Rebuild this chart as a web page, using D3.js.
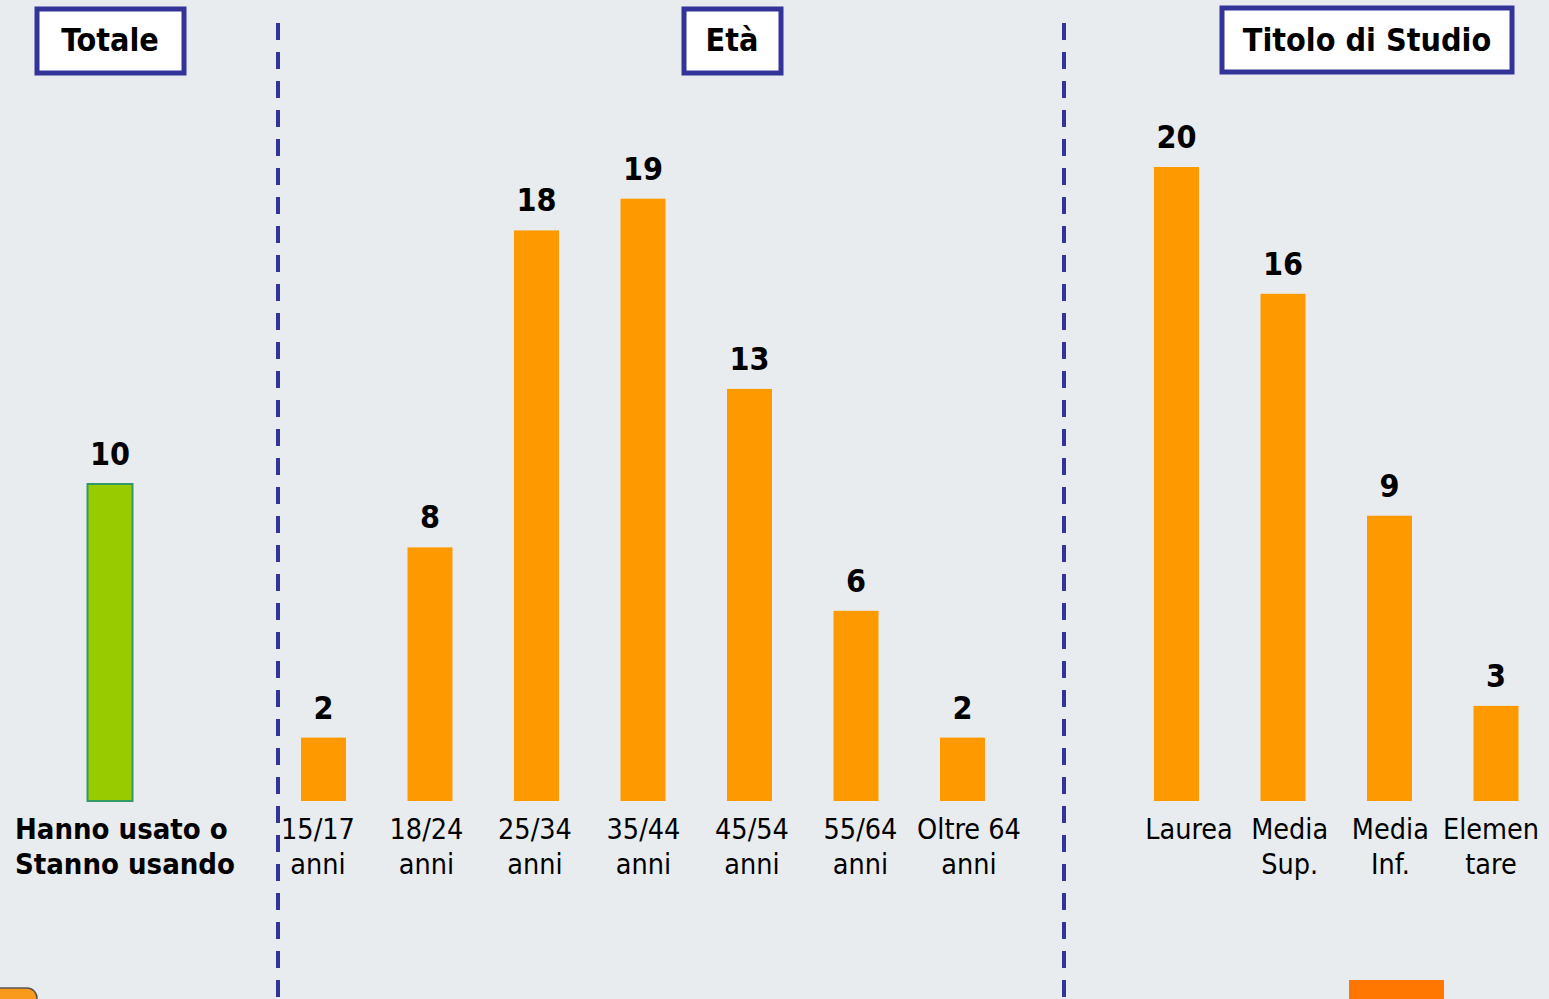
<!DOCTYPE html>
<html>
<head>
<meta charset="utf-8">
<script src="https://cdn.jsdelivr.net/npm/d3@7"></script>
<style>
  body { margin:0; background:#e9ecee; }
  svg { display:block; background:#e9ecee; }
  .val { font-family: Tahoma, "DejaVu Sans Condensed", "DejaVu Sans", sans-serif; font-weight:bold; font-size:32px; fill:#000; }
  .cat { font-family: Tahoma, "DejaVu Sans Condensed", "DejaVu Sans", sans-serif; font-size:28.5px; fill:#000; }
  .cat.b { font-weight:bold; font-size:29px; }
  .ttl { font-family: Tahoma, "DejaVu Sans Condensed", "DejaVu Sans", sans-serif; font-weight:bold; font-size:32px; fill:#000; }
</style>
</head>
<body>
<script>
// data
var totaleCats = ["Hanno usato o|Stanno usando"];
var totaleVals = [10];
var etaCats = ["15/17|anni", "18/24|anni", "25/34|anni", "35/44|anni", "45/54|anni", "55/64|anni", "Oltre 64|anni"];
var etaVals = [2, 8, 18, 19, 13, 6, 2];
var studioCats = ["Laurea", "Media|Sup.", "Media|Inf.", "Elemen|tare"];
var studioVals = [20, 16, 9, 3];
var panelTitles = ["Totale", "Età", "Titolo di Studio"];

var width = 1549, height = 999;
var svg = d3.select("body").append("svg").attr("width", width).attr("height", height);

var y = d3.scaleLinear().domain([0, 20]).range([801, 167]);
var barW = 45;

var panels = [
  {cats: totaleCats, vals: totaleVals, bar: [110, 110], lab: [15, 15], anchor: "start", bold: true, color: "#99cc00", stroke: "#339966"},
  {cats: etaCats, vals: etaVals, bar: [323.5, 962.5], lab: [318, 969], anchor: "middle", color: "#ff9900"},
  {cats: studioCats, vals: studioVals, bar: [1176.5, 1496], lab: [1189, 1491], anchor: "middle", color: "#ff9900"}
];

// dashed separators
[278, 1064].forEach(function(x) {
  svg.append("line")
    .attr("x1", x).attr("x2", x).attr("y1", 23).attr("y2", height)
    .attr("stroke", "#333399").attr("stroke-width", 4)
    .attr("stroke-dasharray", "17,12");
});

panels.forEach(function(p) {
  var xb = d3.scalePoint().domain(p.cats).range(p.bar);
  var xl = d3.scalePoint().domain(p.cats).range(p.lab);
  var g = svg.append("g");

  g.selectAll("rect.bar").data(p.cats).enter().append("rect")
    .attr("class", "bar")
    .attr("x", function(d) { return xb(d) - barW / 2; })
    .attr("width", barW)
    .attr("y", function(d, i) { return y(p.vals[i]); })
    .attr("height", function(d, i) { return y(0) - y(p.vals[i]); })
    .attr("fill", p.color)
    .attr("stroke", p.stroke || "none")
    .attr("stroke-width", 2);

  g.selectAll("text.val").data(p.cats).enter().append("text")
    .attr("class", "val")
    .attr("x", function(d) { return xb(d); })
    .attr("y", function(d, i) { return y(p.vals[i]) - 19; })
    .attr("text-anchor", "middle")
    .text(function(d, i) { return p.vals[i]; });

  var labs = g.selectAll("text.cat").data(p.cats).enter().append("text")
    .attr("class", p.bold ? "cat b" : "cat")
    .attr("text-anchor", p.anchor);
  labs.each(function(d) {
    var t = d3.select(this);
    d.split("|").forEach(function(line, k) {
      t.append("tspan").attr("x", xl(d)).attr("y", 839 + k * 35).text(line);
    });
  });
});

// title boxes
var boxes = [
  {x: 37, y: 9, w: 147, h: 64, cx: 110},
  {x: 684, y: 9, w: 97, h: 64, cx: 732},
  {x: 1222, y: 8, w: 290, h: 64, cx: 1367}
];
boxes.forEach(function(b, i) {
  svg.append("rect").attr("x", b.x).attr("y", b.y).attr("width", b.w).attr("height", b.h)
    .attr("fill", "#fff").attr("stroke", "#333399").attr("stroke-width", 5);
  svg.append("text").attr("class", "ttl").attr("x", b.cx).attr("y", 51)
    .attr("text-anchor", "middle").text(panelTitles[i]);
});

// bottom decorations (cut off by the frame)
svg.append("rect").attr("x", -12).attr("y", 988).attr("width", 49).attr("height", 30).attr("rx", 10)
  .attr("fill", "#f99a1c").attr("stroke", "#555").attr("stroke-width", 1.5);
svg.append("rect").attr("x", 1349).attr("y", 980).attr("width", 95).attr("height", 20)
  .attr("fill", "#ff7700");
</script>
</body>
</html>
